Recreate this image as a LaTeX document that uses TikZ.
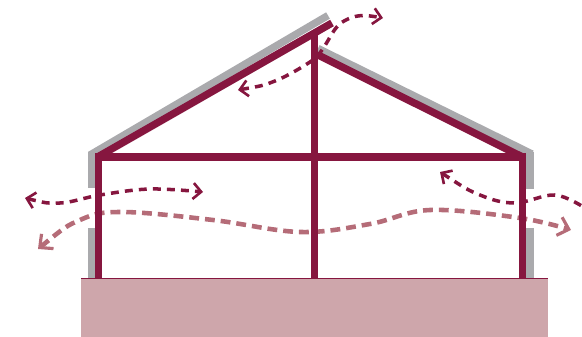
\documentclass[tikz,border=0pt]{standalone}
\usetikzlibrary{arrows.meta}
\definecolor{FrameRed}{RGB}{134,22,63}
\definecolor{CladGrey}{RGB}{170,170,173}
\definecolor{GroundRose}{RGB}{206,166,171}
\definecolor{AirRose}{RGB}{181,108,120}
\tikzset{
  clad/.style={draw=CladGrey,line width=4.2pt},
  frame/.style={draw=FrameRed,line width=4.2pt},
  darkflow/.style={{Straight Barb[length=1.6mm,width=3.2mm,line width=1.5pt]}-{Straight Barb[length=1.6mm,width=3.2mm,line width=1.5pt]},
    draw=FrameRed,line width=2pt,dash pattern=on 4.5pt off 3.5pt},
  darkflowend/.style={{Straight Barb[length=1.6mm,width=3.2mm,line width=1.5pt]}-,
    draw=FrameRed,line width=2pt,dash pattern=on 4.5pt off 3.5pt},
  lightflow/.style={{Straight Barb[length=2mm,width=3.8mm,line width=1.8pt]}-{Straight Barb[length=2mm,width=3.8mm,line width=1.8pt]},
    draw=AirRose,line width=2.6pt,dash pattern=on 5.6pt off 3.4pt}
}
\begin{document}
\begin{tikzpicture}[x=0.02cm,y=-0.02cm]
  \useasboundingbox (0,0) rectangle (582,337);
  % ground
  \fill[GroundRose] (81,278) rectangle (548,337);
  % cladding
  \draw[clad] (91.5,152) -- (91.5,188);
  \draw[clad] (91.5,228) -- (91.5,278);
  \draw[clad] (530,152) -- (530,189);
  \draw[clad] (530,228) -- (530,278);
  \draw[clad] (90,155) -- (328,15.5);
  \draw[clad] (318,48.5) -- (532,154);
  % air through the walls
  \draw[lightflow] plot[smooth,tension=0.6] coordinates {(38,249) (80,220) (122,212) (213,220) (300,232) (370,224) (430,210) (520,218) (571,230)};
  % frame
  \draw[frame] (98.5,156.5) -- (332,23);
  \draw[frame] (318,55) -- (522.5,157);
  \draw[frame] (314.5,33) -- (314.5,278);
  \draw[frame] (95,157) -- (526,157);
  \draw[frame] (98.5,154) -- (98.5,278);
  \draw[frame] (522.5,154) -- (522.5,278);
  \draw[FrameRed,line width=1pt] (81,278.5) -- (548,278.5);
  % air through roof and walls
  \draw[darkflow] plot[smooth,tension=0.6] coordinates {(238,90) (275,81) (310,62) (322,50) (336,28) (348,19) (363,15.5) (383,18)};
  \draw[darkflow] plot[smooth,tension=0.6] coordinates {(25,198) (60,203) (100,195) (150,189) (203,192)};
  \draw[darkflowend] plot[smooth,tension=0.6] coordinates {(440,172) (480,195) (515,203) (555,195) (585,208)};
\end{tikzpicture}
\end{document}
